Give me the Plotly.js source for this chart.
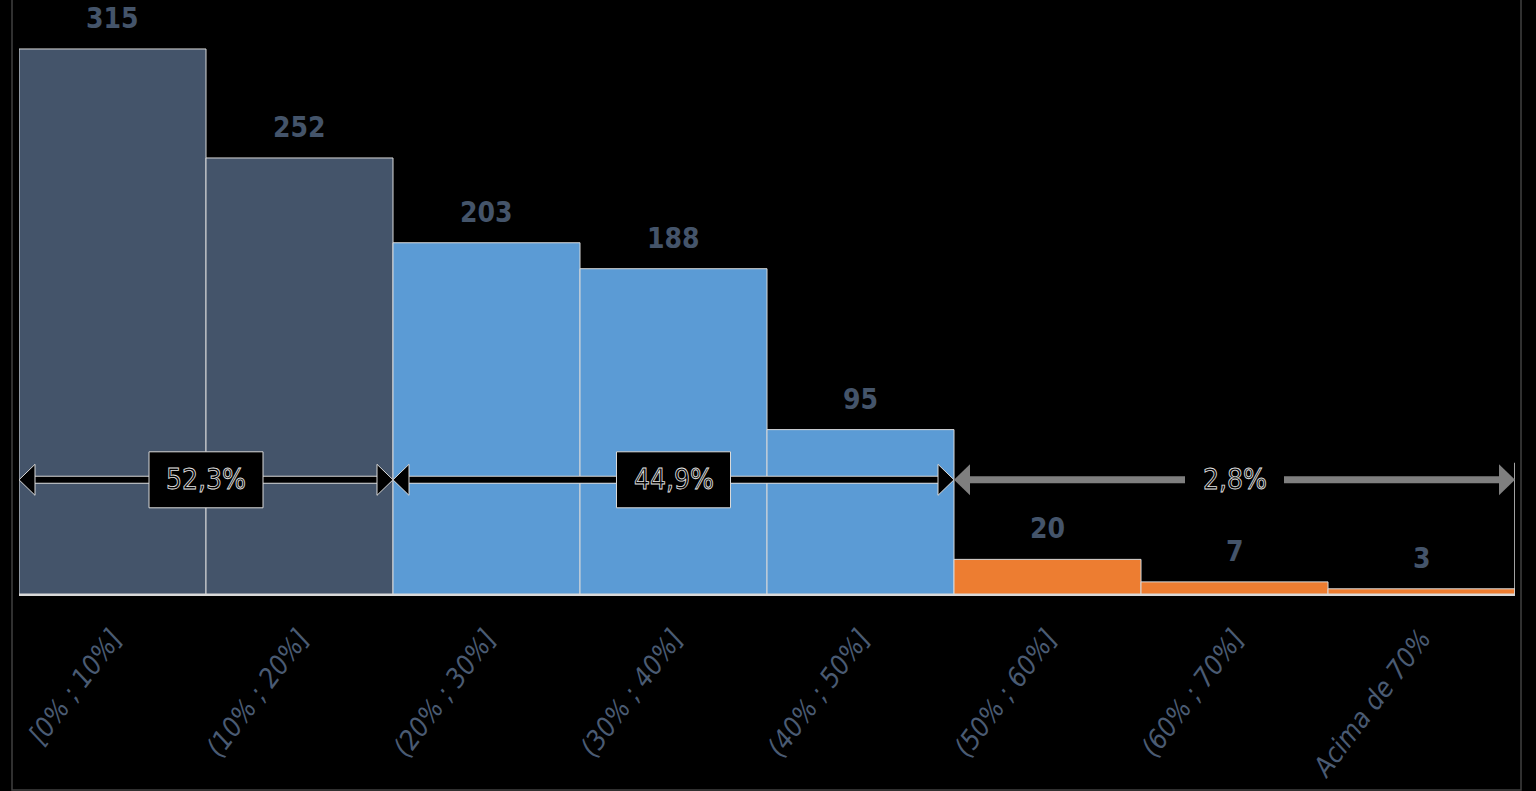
<!DOCTYPE html>
<html>
<head>
<meta charset="utf-8">
<script src="https://cdn.plot.ly/plotly-3.0.1.min.js"></script>
<style>
html,body{margin:0;padding:0;background:#000;}
#chart{width:1536px;height:791px;}
</style>
</head>
<body>
<div id="chart"></div>
<script>
// ---- data ----
const categories = ["[0% ; 10%]", "(10% ; 20%]", "(20% ; 30%]", "(30% ; 40%]", "(40% ; 50%]", "(50% ; 60%]", "(60% ; 70%]", "Acima de 70%"];
const counts = [315, 252, 203, 188, 95, 20, 7, 3];
const groupLabels = ["52,3%", "44,9%", "2,8%"];
const groupFirst = [0, 2, 5];
const groupLast = [1, 4, 7];
const arrowLevel = 66;

// ---- styles ----
const FONT = "'Liberation Sans Narrow', 'DejaVu Sans Condensed', 'Arial Narrow', sans-serif";
const SLATE = "#44546A";
const groupColors = ["#44546A", "#5B9BD5", "#ED7D31"];
const groupArrowColors = ["#000000", "#000000", "#7F7F7F"];
const groupBoxed = [true, true, false];

const W = 1536, H = 791;
const M = {l: 19, r: 21, t: 0, b: 197};
const plotW = W - M.l - M.r, plotH = H - M.t - M.b;
const yMax = 343.3;
const pxX = plotW / categories.length;   // px per category unit
const pxY = plotH / yMax;               // px per y unit

const xs = categories.map((_, i) => i);
const barColors = xs.map(i => {
  for (let g = 0; g < groupFirst.length; g++) if (i >= groupFirst[g] && i <= groupLast[g]) return groupColors[g];
  return SLATE;
});

const trace = {
  type: "bar",
  x: xs,
  y: counts,
  width: 1,
  marker: {color: barColors, line: {color: "#D9D9D9", width: 1}},
  hoverinfo: "skip"
};

const shapes = [];
const annotations = [];

// frame
const fx0 = (12 - M.l) / plotW, fx1 = (1521 - M.l) / plotW;
const fy0 = (M.t + plotH - 790) / plotH, fy1 = (M.t + plotH + 2) / plotH;
shapes.push({type: "rect", xref: "paper", yref: "paper", x0: fx0, x1: fx1, y0: fy0, y1: fy1,
  line: {color: "#404040", width: 1.5}, fillcolor: "rgba(0,0,0,0)", layer: "below"});

// end marker at right edge
shapes.push({type: "line", x0: categories.length - 0.5, x1: categories.length - 0.5,
  y0: -9 / pxY, y1: arrowLevel + 17 / pxY, line: {color: "#D9D9D9", width: 1.5}});

const headL = 16 / pxX, headH = 15.5 / pxY;
groupLabels.forEach((lab, g) => {
  const xa = groupFirst[g] - 0.5, xb = groupLast[g] + 0.5;
  const col = groupArrowColors[g];
  const y = arrowLevel;
  if (groupBoxed[g]) {
    shapes.push({type: "line", x0: xa + headL * 0.5, x1: xb - headL * 0.5, y0: y, y1: y,
      line: {color: "#D9D9D9", width: 8}});
  }
  shapes.push({type: "line", x0: xa + headL * 0.5, x1: xb - headL * 0.5, y0: y, y1: y,
    line: {color: col, width: groupBoxed[g] ? 6 : 7}});
  const outline = groupBoxed[g] ? {color: "#D9D9D9", width: 1} : {width: 0};
  shapes.push({type: "path",
    path: `M ${xa} ${y} L ${xa + headL} ${y + headH} L ${xa + headL} ${y - headH} Z`,
    fillcolor: col, line: outline});
  shapes.push({type: "path",
    path: `M ${xb} ${y} L ${xb - headL} ${y + headH} L ${xb - headL} ${y - headH} Z`,
    fillcolor: col, line: outline});
  const xm = (xa + xb) / 2;
  const bw = (groupBoxed[g] ? 114 : 99) / pxX / 2, bh = 28 / pxY;
  shapes.push({type: "rect", x0: xm - bw, x1: xm + bw, y0: y - bh, y1: y + bh,
    fillcolor: "#000000",
    line: groupBoxed[g] ? {color: "#D9D9D9", width: 1} : {width: 0}});
  annotations.push({x: xm, y: y, text: lab, showarrow: false, xanchor: "center", yanchor: "middle",
    font: {family: FONT, size: 28, color: "#000000"}});
});

// value labels
counts.forEach((v, i) => {
  annotations.push({x: i, y: v, text: String(v), showarrow: false, xanchor: "center", yanchor: "bottom",
    yshift: 12, font: {family: FONT, size: 28, color: SLATE, weight: "bold"}});
});

const layout = {
  width: W, height: H,
  margin: M,
  paper_bgcolor: "#000000",
  plot_bgcolor: "#000000",
  showlegend: false,
  bargap: 0,
  xaxis: {
    range: [-0.5, categories.length - 0.5],
    tickmode: "array", tickvals: xs, ticktext: categories,
    tickangle: -53,
    tickfont: {family: FONT, size: 27, color: "#4A5B73", style: "italic"},
    ticks: "", ticklabelstandoff: 16,
    showgrid: false, zeroline: false,
    showline: true, linecolor: "#D9D9D9", linewidth: 1.5,
    fixedrange: true
  },
  yaxis: {
    range: [0, yMax], visible: false, showgrid: false, zeroline: false, fixedrange: true
  },
  shapes: shapes,
  annotations: annotations
};

Plotly.newPlot("chart", [trace], layout, {displayModeBar: false, staticPlot: true}).then(gd => {
  document.querySelectorAll("#chart .annotation-text").forEach(t => {
    if (groupLabels.includes(t.textContent)) {
      t.style.stroke = "#E6E6E6";
      t.style.strokeWidth = "0.8px";
      t.style.fill = "#000000";
    }
  });
});
</script>
</body>
</html>
